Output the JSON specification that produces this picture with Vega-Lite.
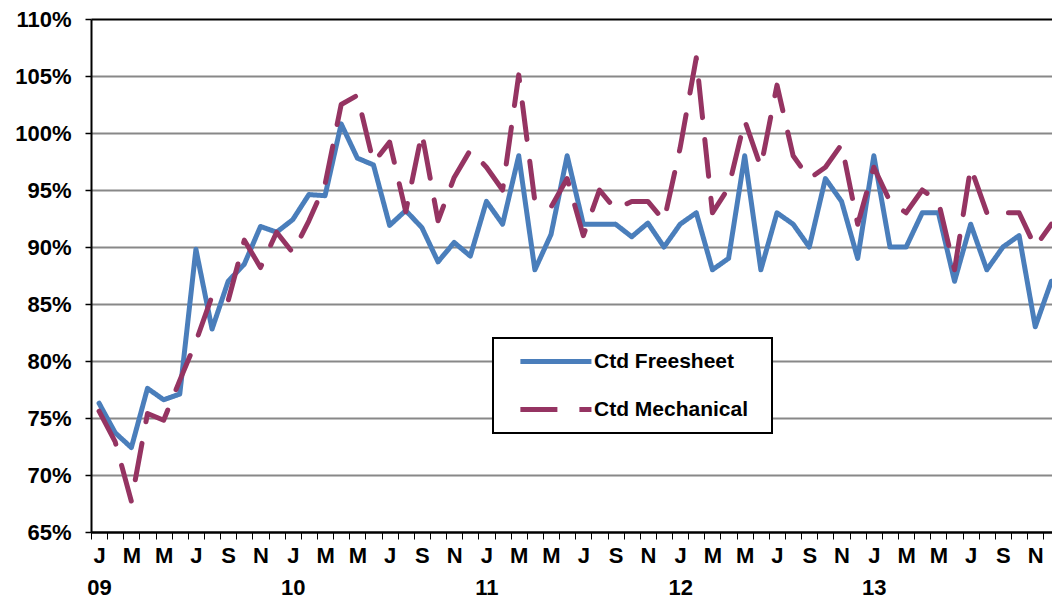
{
  "$schema": "https://vega.github.io/schema/vega-lite/v6.json",
  "width": 962,
  "height": 513,
  "autosize": {"type": "none"},
  "padding": {"left": 91, "top": 19, "right": 0, "bottom": 69},
  "config": {"view": {"stroke": null}, "font": "Liberation Sans", "legend": {"strokeWidth": 2}},
  "data": {"values": [
    {"m":0,"series":"Ctd Freesheet","v":76.3},{"m":1,"series":"Ctd Freesheet","v":73.7},{"m":2,"series":"Ctd Freesheet","v":72.4},{"m":3,"series":"Ctd Freesheet","v":77.6},{"m":4,"series":"Ctd Freesheet","v":76.6},{"m":5,"series":"Ctd Freesheet","v":77.1},{"m":6,"series":"Ctd Freesheet","v":89.8},{"m":7,"series":"Ctd Freesheet","v":82.8},{"m":8,"series":"Ctd Freesheet","v":87.0},{"m":9,"series":"Ctd Freesheet","v":88.5},{"m":10,"series":"Ctd Freesheet","v":91.8},{"m":11,"series":"Ctd Freesheet","v":91.3},
    {"m":12,"series":"Ctd Freesheet","v":92.4},{"m":13,"series":"Ctd Freesheet","v":94.6},{"m":14,"series":"Ctd Freesheet","v":94.5},{"m":15,"series":"Ctd Freesheet","v":100.8},{"m":16,"series":"Ctd Freesheet","v":97.8},{"m":17,"series":"Ctd Freesheet","v":97.2},{"m":18,"series":"Ctd Freesheet","v":91.9},{"m":19,"series":"Ctd Freesheet","v":93.2},{"m":20,"series":"Ctd Freesheet","v":91.7},{"m":21,"series":"Ctd Freesheet","v":88.7},{"m":22,"series":"Ctd Freesheet","v":90.4},{"m":23,"series":"Ctd Freesheet","v":89.2},
    {"m":24,"series":"Ctd Freesheet","v":94.0},{"m":25,"series":"Ctd Freesheet","v":92.0},{"m":26,"series":"Ctd Freesheet","v":98.0},{"m":27,"series":"Ctd Freesheet","v":88.0},{"m":28,"series":"Ctd Freesheet","v":91.1},{"m":29,"series":"Ctd Freesheet","v":98.0},{"m":30,"series":"Ctd Freesheet","v":92.0},{"m":31,"series":"Ctd Freesheet","v":92.0},{"m":32,"series":"Ctd Freesheet","v":92.0},{"m":33,"series":"Ctd Freesheet","v":90.9},{"m":34,"series":"Ctd Freesheet","v":92.1},{"m":35,"series":"Ctd Freesheet","v":90.0},
    {"m":36,"series":"Ctd Freesheet","v":92.0},{"m":37,"series":"Ctd Freesheet","v":93.0},{"m":38,"series":"Ctd Freesheet","v":88.0},{"m":39,"series":"Ctd Freesheet","v":89.0},{"m":40,"series":"Ctd Freesheet","v":98.0},{"m":41,"series":"Ctd Freesheet","v":88.0},{"m":42,"series":"Ctd Freesheet","v":93.0},{"m":43,"series":"Ctd Freesheet","v":92.0},{"m":44,"series":"Ctd Freesheet","v":90.0},{"m":45,"series":"Ctd Freesheet","v":96.0},{"m":46,"series":"Ctd Freesheet","v":94.0},{"m":47,"series":"Ctd Freesheet","v":89.0},
    {"m":48,"series":"Ctd Freesheet","v":98.0},{"m":49,"series":"Ctd Freesheet","v":90.0},{"m":50,"series":"Ctd Freesheet","v":90.0},{"m":51,"series":"Ctd Freesheet","v":93.0},{"m":52,"series":"Ctd Freesheet","v":93.0},{"m":53,"series":"Ctd Freesheet","v":87.0},{"m":54,"series":"Ctd Freesheet","v":92.0},{"m":55,"series":"Ctd Freesheet","v":88.0},{"m":56,"series":"Ctd Freesheet","v":90.0},{"m":57,"series":"Ctd Freesheet","v":91.0},{"m":58,"series":"Ctd Freesheet","v":83.0},{"m":59,"series":"Ctd Freesheet","v":87.0},
    {"m":0,"series":"Ctd Mechanical","v":75.6},{"m":1,"series":"Ctd Mechanical","v":72.9},{"m":2,"series":"Ctd Mechanical","v":67.7},{"m":3,"series":"Ctd Mechanical","v":75.4},{"m":4,"series":"Ctd Mechanical","v":74.8},{"m":5,"series":"Ctd Mechanical","v":78.3},{"m":6,"series":"Ctd Mechanical","v":81.7},{"m":7,"series":"Ctd Mechanical","v":85.7},{"m":8,"series":"Ctd Mechanical","v":85.3},{"m":9,"series":"Ctd Mechanical","v":90.6},{"m":10,"series":"Ctd Mechanical","v":88.2},{"m":11,"series":"Ctd Mechanical","v":91.3},
    {"m":12,"series":"Ctd Mechanical","v":89.5},{"m":13,"series":"Ctd Mechanical","v":92.3},{"m":14,"series":"Ctd Mechanical","v":95.5},{"m":15,"series":"Ctd Mechanical","v":102.5},{"m":16,"series":"Ctd Mechanical","v":103.3},{"m":17,"series":"Ctd Mechanical","v":97.4},{"m":18,"series":"Ctd Mechanical","v":99.2},{"m":19,"series":"Ctd Mechanical","v":93.1},{"m":20,"series":"Ctd Mechanical","v":100.0},{"m":21,"series":"Ctd Mechanical","v":92.3},{"m":22,"series":"Ctd Mechanical","v":96.1},{"m":23,"series":"Ctd Mechanical","v":98.5},
    {"m":24,"series":"Ctd Mechanical","v":97.0},{"m":25,"series":"Ctd Mechanical","v":95.0},{"m":26,"series":"Ctd Mechanical","v":105.1},{"m":27,"series":"Ctd Mechanical","v":94.0},{"m":28,"series":"Ctd Mechanical","v":93.5},{"m":29,"series":"Ctd Mechanical","v":96.0},{"m":30,"series":"Ctd Mechanical","v":91.0},{"m":31,"series":"Ctd Mechanical","v":95.0},{"m":32,"series":"Ctd Mechanical","v":93.3},{"m":33,"series":"Ctd Mechanical","v":94.0},{"m":34,"series":"Ctd Mechanical","v":94.0},{"m":35,"series":"Ctd Mechanical","v":92.3},
    {"m":36,"series":"Ctd Mechanical","v":98.7},{"m":37,"series":"Ctd Mechanical","v":106.6},{"m":38,"series":"Ctd Mechanical","v":93.0},{"m":39,"series":"Ctd Mechanical","v":95.2},{"m":40,"series":"Ctd Mechanical","v":101.1},{"m":41,"series":"Ctd Mechanical","v":97.0},{"m":42,"series":"Ctd Mechanical","v":104.2},{"m":43,"series":"Ctd Mechanical","v":98.0},{"m":44,"series":"Ctd Mechanical","v":96.0},{"m":45,"series":"Ctd Mechanical","v":97.0},{"m":46,"series":"Ctd Mechanical","v":99.0},{"m":47,"series":"Ctd Mechanical","v":92.0},
    {"m":48,"series":"Ctd Mechanical","v":97.0},{"m":49,"series":"Ctd Mechanical","v":94.0},{"m":50,"series":"Ctd Mechanical","v":93.0},{"m":51,"series":"Ctd Mechanical","v":95.0},{"m":52,"series":"Ctd Mechanical","v":94.0},{"m":53,"series":"Ctd Mechanical","v":88.0},{"m":54,"series":"Ctd Mechanical","v":97.0},{"m":55,"series":"Ctd Mechanical","v":93.0},{"m":56,"series":"Ctd Mechanical","v":93.0},{"m":57,"series":"Ctd Mechanical","v":93.0},{"m":58,"series":"Ctd Mechanical","v":90.0},{"m":59,"series":"Ctd Mechanical","v":92.0}
  ]},
  "mark": {"type": "line", "strokeWidth": 5, "clip": true, "strokeCap": "round", "strokeJoin": "round"},
  "encoding": {
    "x": {
      "field": "m", "type": "quantitative",
      "scale": {"domain": [-0.5, 59.1], "nice": false, "zero": false},
      "axis": {
        "title": null,
        "values": [0,1,2,3,4,5,6,7,8,9,10,11,12,13,14,15,16,17,18,19,20,21,22,23,24,25,26,27,28,29,30,31,32,33,34,35,36,37,38,39,40,41,42,43,44,45,46,47,48,49,50,51,52,53,54,55,56,57,58,59],
        "tickOffset": -8.07,
        "labelOffset": 8.07,
        "labelExpr": "datum.value % 2 == 1 ? '' : (datum.value % 12 == 0 ? [substring('JFMAMJJASOND', datum.value % 12, datum.value % 12 + 1), ((9 + datum.value / 12) < 10 ? '0' : '') + (9 + datum.value / 12)] : substring('JFMAMJJASOND', datum.value % 12, datum.value % 12 + 1))",
        "grid": false,
        "tickSize": 7,
        "tickColor": "black",
        "tickWidth": 1,
        "domainColor": "black",
        "domainWidth": 2,
        "labelPadding": 6,
        "labelFont": "Liberation Sans",
        "labelFontSize": 22,
        "labelFontWeight": "bold",
        "labelColor": "black",
        "labelLineHeight": 32,
        "labelBaseline": "top",
        "labelOverlap": false,
        "labelFlush": false,
        "labelBound": false
      }
    },
    "y": {
      "field": "v", "type": "quantitative",
      "scale": {"domain": [65, 110], "nice": false, "zero": false},
      "axis": {
        "title": null,
        "values": [65,70,75,80,85,90,95,100,105,110],
        "labelExpr": "datum.value + '%'",
        "labelFont": "Liberation Sans",
        "labelFontSize": 22,
        "labelFontWeight": "bold",
        "labelColor": "black",
        "labelPadding": 14,
        "tickSize": 6,
        "tickColor": "black",
        "tickWidth": 1.5,
        "domainColor": "black",
        "domainWidth": 2,
        "grid": true,
        "gridColor": {"condition": {"test": "datum.value == 110 || datum.value == 65", "value": "black"}, "value": "#888888"},
        "gridWidth": 2,
        "labelOverlap": false,
        "labelFlush": false
      }
    },
    "color": {
      "field": "series", "type": "nominal",
      "scale": {"domain": ["Ctd Freesheet", "Ctd Mechanical"], "range": ["#4A7EBB", "#953462"]},
      "legend": {
        "title": "\u00a0", "titleOrient": "right", "titlePadding": 11, "titleFontSize": 21,
        "orient": "none", "legendX": 402, "legendY": 319, "direction": "vertical",
        "symbolType": "M-1,0H9", "symbolSize": 202, "symbolStrokeWidth": 5, "symbolOffset": 11,
        "labelFont": "Liberation Sans", "labelFontSize": 21, "labelFontWeight": "bold", "labelColor": "black",
        "labelOffset": 56, "padding": 13, "rowPadding": 26, "strokeColor": "black", "fillColor": "white", "labelLimit": 400
      }
    },
    "strokeDash": {
      "field": "series", "type": "nominal",
      "scale": {"domain": ["Ctd Freesheet", "Ctd Mechanical"], "range": [[1, 0], [37, 22]]},
      "legend": {
        "title": "\u00a0", "titleOrient": "right", "titlePadding": 11, "titleFontSize": 21,
        "orient": "none", "legendX": 402, "legendY": 319, "direction": "vertical",
        "symbolType": "M-1,0H9", "symbolSize": 202, "symbolStrokeWidth": 5, "symbolOffset": 11,
        "labelFont": "Liberation Sans", "labelFontSize": 21, "labelFontWeight": "bold", "labelColor": "black",
        "labelOffset": 56, "padding": 13, "rowPadding": 26, "strokeColor": "black", "fillColor": "white", "labelLimit": 400
      }
    }
  }
}
